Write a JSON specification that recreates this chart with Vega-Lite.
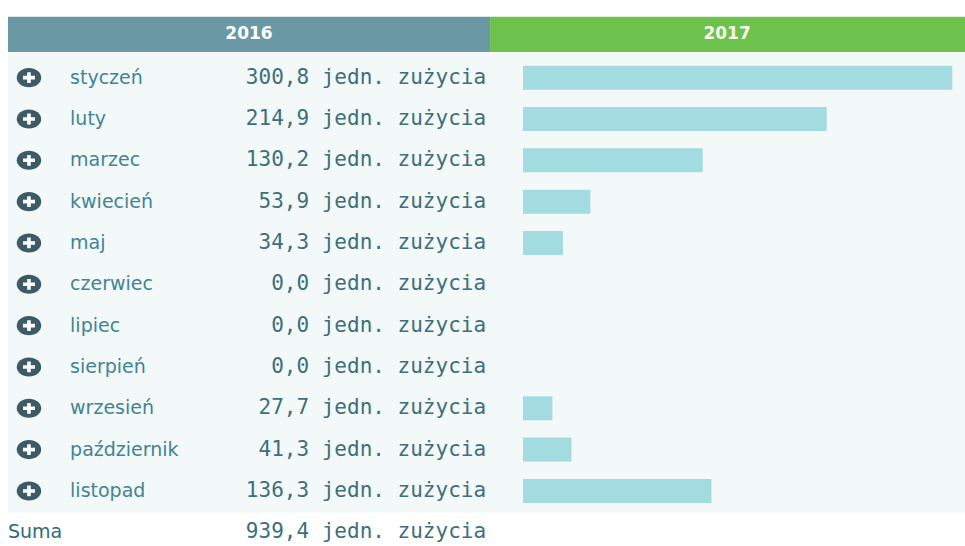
{
  "$schema": "https://vega.github.io/schema/vega-lite/v6.json",
  "width": 965,
  "height": 546,
  "autosize": {"type": "fit", "contains": "padding"},
  "padding": 0,
  "background": "#ffffff",
  "config": {"view": {"stroke": null}},
  "datasets": {
    "rows": [
      {"i": 0, "month": "styczeń", "v2016": 300.8, "label": "300,8 jedn. zużycia", "v2017": 300.8},
      {"i": 1, "month": "luty", "v2016": 214.9, "label": "214,9 jedn. zużycia", "v2017": 212.8},
      {"i": 2, "month": "marzec", "v2016": 130.2, "label": "130,2 jedn. zużycia", "v2017": 125.9},
      {"i": 3, "month": "kwiecień", "v2016": 53.9, "label": "53,9 jedn. zużycia", "v2017": 47.2},
      {"i": 4, "month": "maj", "v2016": 34.3, "label": "34,3 jedn. zużycia", "v2017": 28.0},
      {"i": 5, "month": "czerwiec", "v2016": 0.0, "label": "0,0 jedn. zużycia", "v2017": 0},
      {"i": 6, "month": "lipiec", "v2016": 0.0, "label": "0,0 jedn. zużycia", "v2017": 0},
      {"i": 7, "month": "sierpień", "v2016": 0.0, "label": "0,0 jedn. zużycia", "v2017": 0},
      {"i": 8, "month": "wrzesień", "v2016": 27.7, "label": "27,7 jedn. zużycia", "v2017": 20.6},
      {"i": 9, "month": "październik", "v2016": 41.3, "label": "41,3 jedn. zużycia", "v2017": 33.9},
      {"i": 10, "month": "listopad", "v2016": 136.3, "label": "136,3 jedn. zużycia", "v2017": 132.0}
    ],
    "total": [{"i": 11, "name": "Suma", "v2016": 939.4, "label": "939,4 jedn. zużycia"}],
    "years": [{"year": "2016"}, {"year": "2017"}]
  },
  "encoding": {
    "x": {"type": "quantitative", "scale": {"domain": [-366.5, 309.7], "nice": false, "zero": false}, "axis": null},
    "y": {"type": "quantitative", "scale": {"domain": [-1.758, 11.211], "nice": false, "zero": false, "reverse": true}, "axis": null}
  },
  "layer": [
    {
      "data": {"name": "total"},
      "mark": {"type": "rect", "color": "#f3f8f9"},
      "encoding": {
        "x": {"datum": -360.9, "type": "quantitative"},
        "x2": {"datum": 309.7},
        "y": {"datum": -0.6, "type": "quantitative"},
        "y2": {"datum": 10.52}
      }
    },
    {
      "data": {"name": "years"},
      "transform": [{"filter": "datum.year == '2016'"}],
      "mark": {"type": "rect", "color": "#6b98a5"},
      "encoding": {
        "x": {"datum": -360.9, "type": "quantitative"},
        "x2": {"datum": -23.1},
        "y": {"datum": -1.473, "type": "quantitative"},
        "y2": {"datum": -0.618}
      }
    },
    {
      "data": {"name": "years"},
      "transform": [{"filter": "datum.year == '2017'"}],
      "mark": {"type": "rect", "color": "#6cc24c"},
      "encoding": {
        "x": {"datum": -23.1, "type": "quantitative"},
        "x2": {"datum": 309.7},
        "y": {"datum": -1.473, "type": "quantitative"},
        "y2": {"datum": -0.618}
      }
    },
    {
      "data": {"name": "years"},
      "transform": [{"filter": "datum.year == '2016'"}],
      "mark": {"type": "text", "color": "#ffffff", "font": "DejaVu Sans", "fontWeight": "bold", "fontSize": 17, "align": "center", "baseline": "middle"},
      "encoding": {
        "x": {"datum": -192.0, "type": "quantitative"},
        "y": {"datum": -1.05, "type": "quantitative"},
        "text": {"field": "year"}
      }
    },
    {
      "data": {"name": "years"},
      "transform": [{"filter": "datum.year == '2017'"}],
      "mark": {"type": "text", "color": "#f4fbe8", "font": "DejaVu Sans", "fontWeight": "bold", "fontSize": 17, "align": "center", "baseline": "middle"},
      "encoding": {
        "x": {"datum": 143.0, "type": "quantitative"},
        "y": {"datum": -1.05, "type": "quantitative"},
        "text": {"field": "year"}
      }
    },
    {
      "data": {"name": "rows"},
      "mark": {"type": "bar", "orient": "horizontal", "height": 24, "color": "#a2dbe0"},
      "encoding": {
        "x": {"field": "v2017", "type": "quantitative"},
        "x2": {"datum": 0},
        "y": {"field": "i", "type": "quantitative"}
      }
    },
    {
      "data": {"name": "rows"},
      "mark": {"type": "point", "filled": true, "shape": "M -1 0 A 1 0.78 0 1 0 1 0 A 1 0.78 0 1 0 -1 0 Z", "size": 600, "color": "#3c5b66", "opacity": 1},
      "encoding": {
        "x": {"datum": -346.2, "type": "quantitative"},
        "y": {"field": "i", "type": "quantitative"}
      }
    },
    {
      "data": {"name": "rows"},
      "mark": {"type": "point", "filled": true, "shape": "M -1 -0.3 H -0.3 V -0.9 H 0.3 V -0.3 H 1 V 0.3 H 0.3 V 0.9 H -0.3 V 0.3 H -1 Z", "size": 144, "color": "#ffffff", "opacity": 1},
      "encoding": {
        "x": {"datum": -346.2, "type": "quantitative"},
        "y": {"field": "i", "type": "quantitative"}
      }
    },
    {
      "data": {"name": "rows"},
      "mark": {"type": "text", "font": "DejaVu Sans", "fontSize": 19, "color": "#3f8595", "align": "left", "baseline": "middle"},
      "encoding": {
        "x": {"datum": -317.4, "type": "quantitative"},
        "y": {"field": "i", "type": "quantitative"},
        "text": {"field": "month"}
      }
    },
    {
      "data": {"name": "rows"},
      "mark": {"type": "text", "font": "DejaVu Sans Mono", "fontSize": 21, "color": "#3d6f7c", "align": "right", "baseline": "middle"},
      "encoding": {
        "x": {"datum": -25.9, "type": "quantitative"},
        "y": {"field": "i", "type": "quantitative"},
        "text": {"field": "label"}
      }
    },
    {
      "data": {"name": "total"},
      "mark": {"type": "text", "font": "DejaVu Sans", "fontSize": 19, "color": "#2f6b79", "align": "left", "baseline": "middle"},
      "encoding": {
        "x": {"datum": -360.9, "type": "quantitative"},
        "y": {"field": "i", "type": "quantitative"},
        "text": {"field": "name"}
      }
    },
    {
      "data": {"name": "total"},
      "mark": {"type": "text", "font": "DejaVu Sans Mono", "fontSize": 21, "color": "#3d6f7c", "align": "right", "baseline": "middle"},
      "encoding": {
        "x": {"datum": -25.9, "type": "quantitative"},
        "y": {"field": "i", "type": "quantitative"},
        "text": {"field": "label"}
      }
    }
  ]
}
